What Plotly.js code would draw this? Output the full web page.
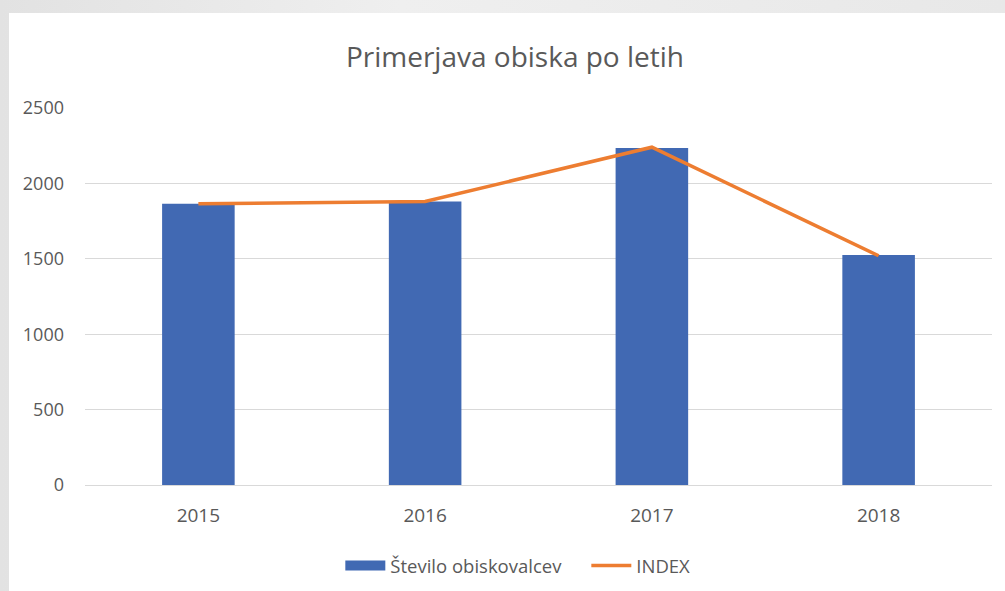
<!DOCTYPE html>
<html>
<head>
<meta charset="utf-8">
<script src="https://cdn.plot.ly/plotly-3.0.1.min.js"></script>
<style>
  html, body { margin: 0; padding: 0; width: 1005px; height: 591px; overflow: hidden;
    background: linear-gradient(90deg, #e2e2e2 0%, #efefef 40%, #e8e8e8 100%); }
  #chart { position: absolute; left: 9px; top: 13px; width: 996px; height: 578px; background: #fff; }
</style>
</head>
<body>
<div id="chart"></div>
<script>
const years = ['2015', '2016', '2017', '2018'];
const visitors = [1865, 1880, 2235, 1525];
const indexValues = [1865, 1880, 2240, 1520];
const yTicks = [0, 500, 1000, 1500, 2000, 2500];

const textColor = '#595959';
const barColor = '#4169b3';
const lineColor = '#ED7D31';
const fontFam = '"Open Sans", "Noto Sans", sans-serif';

const traces = [
  {
    type: 'bar', name: 'Število obiskovalcev', x: years, y: visitors,
    marker: { color: barColor }, showlegend: false, legendgroup: 'v'
  },
  {
    // legend proxy so the key is drawn as a wide rectangle like the original
    type: 'scatter', mode: 'lines', name: 'Število obiskovalcev', x: [null], y: [null],
    line: { color: barColor, width: 11 }, legendgroup: 'v'
  },
  {
    type: 'scatter', mode: 'lines', name: 'INDEX', x: years, y: indexValues,
    line: { color: lineColor, width: 3.5 }
  }
];

const layout = {
  width: 996, height: 578,
  margin: { l: 76, r: 13, t: 95, b: 106, autoexpand: false },
  paper_bgcolor: '#ffffff', plot_bgcolor: '#ffffff',
  font: { family: fontFam, color: textColor, size: 14 },
  title: { text: 'Primerjava obiska po letih', x: 0.508, xanchor: 'center', y: 0.924, yanchor: 'middle',
           font: { family: fontFam, size: 28, color: textColor } },
  bargap: 0.68,
  showlegend: true,
  legend: { orientation: 'h', x: 0.2815, xanchor: 'left', y: -0.215, yanchor: 'middle',
            font: { size: 18.5, color: textColor }, traceorder: 'normal', itemwidth: 40,
            entrywidth: 191, entrywidthmode: 'pixels' },
  xaxis: { type: 'category', showgrid: false, showline: true, linecolor: '#d9d9d9', linewidth: 1,
           ticks: '', ticklabelstandoff: 13, tickfont: { size: 19, color: textColor }, fixedrange: true },
  yaxis: { range: [0, 2500], tickvals: yTicks, ticktext: yTicks.map(String), showgrid: true,
           gridcolor: '#d9d9d9', gridwidth: 1, zeroline: false, showline: false, ticks: '',
           ticklabelstandoff: 20, tickfont: { size: 18, color: textColor }, fixedrange: true }
};

Plotly.newPlot('chart', traces, layout, { displayModeBar: false, staticPlot: true });
</script>
</body>
</html>
